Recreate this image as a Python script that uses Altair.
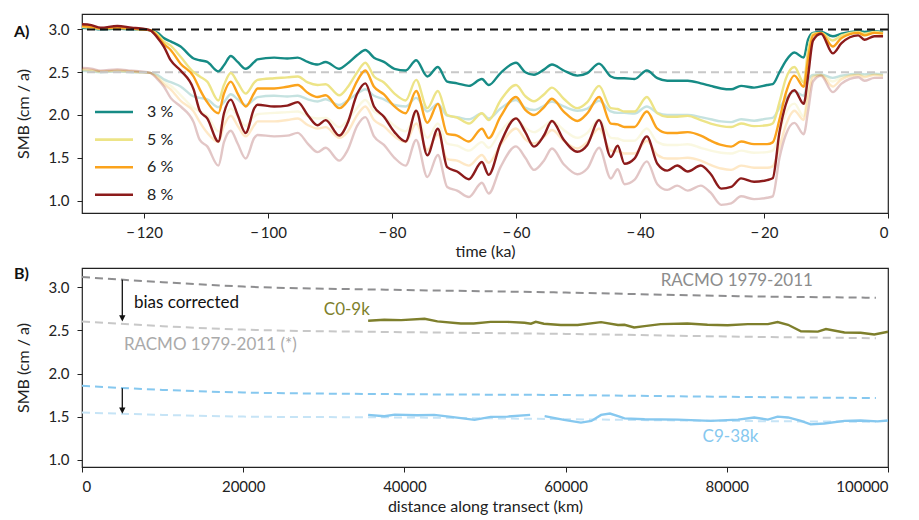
import altair as alt
import pandas as pd

# ---------------- Panel A: SMB over time ----------------
time_ka = [-130, -128.5, -127, -124.3, -122, -120.5, -119, -117.8, -116.8, -115.7,
           -114.1, -112, -111, -109.8, -108, -107.1, -106, -104.9, -103.6, -102.2,
           -101.7, -99, -96.9, -95.2, -93.6, -92, -90.7, -88.5, -87.2, -85.6,
           -84.3, -82.9, -81.3, -79.6, -77.8, -76.1, -74.3, -72.6, -71.1, -69.5,
           -67.6, -65.5, -64.4, -62.5, -60, -58.5, -57.1, -55.5, -54.2, -52.3,
           -50.1, -48.5, -46.6, -44.7, -43.6, -42.5, -40.9, -38.9, -37.2, -35.6,
           -34, -32.3, -30.2, -28.6, -26.9, -25.3, -23.7, -21.6, -19.5, -18.6,
           -17.5, -16.5, -15.1, -13.6, -12.9, -12.1, -10.8, -8.9, -7.5, -4.8,
           -3.8, -2.2, -0.8]

smb_3pct = [3.02, 3.01, 3.00, 3.01, 3.00, 3.00, 2.99, 2.96, 2.90, 2.86,
            2.80, 2.66, 2.64, 2.62, 2.51, 2.58, 2.69, 2.62, 2.54, 2.62,
            2.65, 2.67, 2.66, 2.67, 2.62, 2.59, 2.62, 2.54, 2.60, 2.70,
            2.76, 2.67, 2.62, 2.54, 2.52, 2.64, 2.45, 2.56, 2.39, 2.37,
            2.34, 2.42, 2.35, 2.49, 2.61, 2.50, 2.47, 2.53, 2.59, 2.52,
            2.46, 2.49, 2.60, 2.45, 2.43, 2.43, 2.42, 2.52, 2.43, 2.40,
            2.40, 2.40, 2.37, 2.34, 2.31, 2.30, 2.34, 2.32, 2.35, 2.36,
            2.50, 2.63, 2.73, 2.67, 2.88, 2.96, 2.97, 2.92, 2.95, 2.98,
            2.97, 2.98, 2.97]

smb_5pct = [3.03, 3.02, 3.01, 3.02, 3.01, 3.00, 2.99, 2.94, 2.86, 2.81,
            2.68, 2.50, 2.45, 2.39, 2.17, 2.35, 2.49, 2.38, 2.25, 2.38,
            2.41, 2.43, 2.44, 2.45, 2.38, 2.35, 2.36, 2.23, 2.32, 2.50,
            2.61, 2.45, 2.38, 2.25, 2.17, 2.41, 2.08, 2.28, 2.00, 1.97,
            1.90, 2.02, 1.94, 2.17, 2.35, 2.22, 2.16, 2.24, 2.32, 2.19,
            2.08, 2.15, 2.34, 2.08, 2.07, 2.04, 2.04, 2.21, 2.02, 1.98,
            1.98, 1.99, 1.94, 1.90, 1.87, 1.86, 1.90, 1.87, 1.88, 1.90,
            2.15, 2.42, 2.56, 2.38, 2.75, 2.95, 2.96, 2.87, 2.93, 2.97,
            2.95, 2.97, 2.96]

smb_6pct = [3.04, 3.03, 3.01, 3.02, 3.01, 3.00, 2.99, 2.92, 2.83, 2.76,
            2.60, 2.45, 2.30, 2.15, 2.02, 2.25, 2.39, 2.25, 2.10, 2.26,
            2.31, 2.31, 2.33, 2.35, 2.26, 2.21, 2.23, 2.08, 2.16, 2.40,
            2.52, 2.33, 2.24, 2.10, 2.02, 2.28, 1.91, 2.13, 1.78, 1.76,
            1.69, 1.84, 1.73, 1.98, 2.21, 2.06, 2.00, 2.09, 2.19, 2.04,
            1.93, 2.02, 2.21, 1.90, 1.89, 1.86, 1.86, 2.04, 1.84, 1.79,
            1.79, 1.80, 1.76, 1.70, 1.65, 1.63, 1.69, 1.66, 1.66, 1.68,
            1.95, 2.25, 2.46, 2.33, 2.65, 2.93, 2.96, 2.80, 2.90, 2.96,
            2.93, 2.96, 2.95]

smb_8pct = [3.06, 3.05, 3.02, 3.04, 3.02, 3.01, 2.99, 2.90, 2.80, 2.64,
            2.52, 2.30, 2.05, 1.96, 1.69, 2.02, 2.18, 2.00, 1.79, 2.08,
            2.12, 2.10, 2.11, 2.15, 2.00, 1.88, 1.94, 1.76, 1.90, 2.25,
            2.37, 2.10, 1.98, 1.80, 1.69, 2.05, 1.53, 1.84, 1.39, 1.34,
            1.25, 1.45, 1.30, 1.67, 1.96, 1.80, 1.63, 1.76, 1.93, 1.71,
            1.57, 1.65, 1.94, 1.51, 1.64, 1.43, 1.49, 1.75, 1.43, 1.35,
            1.41, 1.34, 1.41, 1.31, 1.14, 1.16, 1.26, 1.22, 1.24, 1.26,
            1.80, 2.12, 2.29, 2.13, 2.45, 2.87, 2.95, 2.72, 2.84, 2.93,
            2.88, 2.92, 2.92]

series_names = ["3 %", "5 %", "6 %", "8 %"]
series_colors = ["#168b85", "#ede487", "#fba31c", "#8c1b1b"]
reference_levels = [3.0, 2.5]   # uncorrected / bias-corrected present-day SMB

# ---------------- Panel B: SMB along transect ----------------
dist_ref = [0, 10000, 20000, 40000, 60000, 80000, 98500]
racmo = [3.12, 3.06, 3.01, 2.97, 2.94, 2.90, 2.88]
racmo_star = [2.605, 2.55, 2.51, 2.48, 2.46, 2.43, 2.41]
c9_racmo = [1.857, 1.81, 1.78, 1.76, 1.75, 1.73, 1.715]
c9_racmo_star = [1.547, 1.52, 1.50, 1.49, 1.47, 1.45, 1.44]

c0_dist = [35500, 37500, 39600, 42500, 44100, 47000, 48600, 50700, 52800, 54900,
           55700, 56300, 57300, 59400, 61500, 64400, 66500, 67300, 68500, 69800,
           71800, 75100, 77600, 80100, 82600, 85100, 86300, 87600, 89200, 91300,
           92300, 94600, 96600, 98300, 100000]
c0_smb = [2.613, 2.624, 2.62, 2.636, 2.605, 2.58, 2.58, 2.60, 2.60, 2.59,
          2.578, 2.60, 2.578, 2.563, 2.563, 2.597, 2.563, 2.566, 2.535, 2.55,
          2.574, 2.58, 2.566, 2.56, 2.574, 2.574, 2.597, 2.566, 2.49, 2.487,
          2.516, 2.477, 2.473, 2.454, 2.485]

c9_dist_a = [35500, 37500, 38800, 41600, 43700, 45800, 48700, 50700, 52800, 55600]
c9_smb_a = [1.52, 1.505, 1.523, 1.515, 1.52, 1.497, 1.462, 1.497, 1.50, 1.52]
c9_dist_b = [57400, 59800, 61900, 63200, 64400, 65500, 66700, 67300, 69800, 73900,
             78000, 81400, 83400, 85100, 86300, 87600, 89200, 90400, 92100, 94600,
             96600, 98700, 100000]
c9_smb_b = [1.505, 1.462, 1.43, 1.45, 1.52, 1.535, 1.50, 1.48, 1.47, 1.465,
            1.45, 1.465, 1.49, 1.465, 1.50, 1.49, 1.45, 1.41, 1.42, 1.45,
            1.455, 1.445, 1.455]

arrow_x = [5000, 5000]
arrow_from = [3.09, 1.83]
arrow_to = [2.655, 1.585]
arrow_tip = [2.64, 1.57]

FONT = "Lato"
W, H = 806, 199

# ---------- build panel A ----------
rows = []
for name, vals in zip(series_names, [smb_3pct, smb_5pct, smb_6pct, smb_8pct]):
    for t, v in zip(time_ka, vals):
        rows.append({"t": t, "series": name, "smb": v})
dfA = pd.DataFrame(rows)

color_scale = alt.Scale(domain=series_names, range=series_colors)
legendA = alt.Legend(title=None, orient="none", legendX=23, legendY=89,
                     symbolType="M-2.5,0H2.5", symbolSize=231, symbolStrokeWidth=2.6,
                     symbolOpacity=1, labelFont=FONT, labelFontSize=16, labelColor="#222",
                     labelOffset=24, rowPadding=10.6, padding=0)
xA = alt.X("t:Q", scale=alt.Scale(domain=[-130, 0], nice=False),
           axis=alt.Axis(values=[-120, -100, -80, -60, -40, -20, 0],
                         labelExpr="datum.value < 0 ? '\u2212\u2009' + abs(datum.value) : datum.value",
                         title="time (ka)", titlePadding=3, labelPadding=7))
yA_scale = alt.Scale(domain=[0.855, 3.18], nice=False, zero=False)
yA_axis = alt.Axis(values=[1.0, 1.5, 2.0, 2.5, 3.0], format=".1f",
                   title="SMB (cm / a)", titlePadding=17, labelPadding=8)

baseA = alt.Chart(dfA)
faded = baseA.mark_line(strokeWidth=2.4, opacity=0.25, interpolate="monotone").transform_calculate(
    corr=f"datum.smb * {reference_levels[1]} / {reference_levels[0]}"
).encode(
    x=xA,
    y=alt.Y("corr:Q", scale=yA_scale, axis=yA_axis),
    color=alt.Color("series:N", scale=color_scale, legend=legendA),
    order=alt.Order("t:Q"),
)
bold = baseA.mark_line(strokeWidth=2.4, interpolate="monotone").encode(
    x=xA,
    y=alt.Y("smb:Q", scale=yA_scale, axis=yA_axis),
    color=alt.Color("series:N", scale=color_scale, legend=legendA),
    order=alt.Order("t:Q"),
)
dfRef = pd.DataFrame({"level": reference_levels, "kind": ["raw", "corrected"]})
rule_black = alt.Chart(dfRef).transform_filter("datum.kind == 'raw'").mark_rule(
    color="#111", strokeDash=[8, 5], strokeWidth=2).encode(y=alt.Y("level:Q", scale=yA_scale))
rule_gray = alt.Chart(dfRef).transform_filter("datum.kind == 'corrected'").mark_rule(
    color="#c8c8c8", strokeDash=[8, 5], strokeWidth=2).encode(y=alt.Y("level:Q", scale=yA_scale))
labelA = alt.Chart(pd.DataFrame({"lab": ["A)"]})).mark_text(
    font=FONT, fontSize=16, fontWeight="bold", align="left", baseline="middle", color="#111"
).encode(x=alt.value(-68), y=alt.value(18), text="lab:N")

top = alt.layer(faded, rule_gray, bold, rule_black, labelA).properties(width=W, height=H)

# ---------- build panel B ----------
ref_names = ["RACMO", "RACMO (*)", "C9 RACMO", "C9 RACMO (*)"]
ref_colors = ["#8e8e90", "#c8c8c8", "#86c8ef", "#c6e4f6"]
rowsB = []
for name, vals in zip(ref_names, [racmo, racmo_star, c9_racmo, c9_racmo_star]):
    for d, v in zip(dist_ref, vals):
        rowsB.append({"d": d, "series": name, "smb": v})
dfB = pd.DataFrame(rowsB)

xB = alt.X("d:Q", scale=alt.Scale(domain=[0, 100000], nice=False),
           axis=alt.Axis(values=[0, 20000, 40000, 60000, 80000, 100000], format="d",
                         title="distance along transect (km)", titlePadding=4, labelPadding=7))
yB_scale = alt.Scale(domain=[0.915, 3.225], nice=False, zero=False)
yB_axis = alt.Axis(values=[1.0, 1.5, 2.0, 2.5, 3.0], format=".1f",
                   title="SMB (cm / a)", titlePadding=17, labelPadding=8)

dashed = alt.Chart(dfB).mark_line(strokeDash=[8, 5], strokeWidth=2, interpolate="monotone").encode(
    x=xB, y=alt.Y("smb:Q", scale=yB_scale, axis=yB_axis),
    stroke=alt.Stroke("series:N", scale=alt.Scale(domain=ref_names, range=ref_colors), legend=None),
    order=alt.Order("d:Q"),
)

rowsS = []
for d, v in zip(c0_dist, c0_smb):
    rowsS.append({"d": d, "smb": v, "core": "C0-9k", "seg": "C0"})
for d, v in zip(c9_dist_a, c9_smb_a):
    rowsS.append({"d": d, "smb": v, "core": "C9-38k", "seg": "C9a"})
for d, v in zip(c9_dist_b, c9_smb_b):
    rowsS.append({"d": d, "smb": v, "core": "C9-38k", "seg": "C9b"})
dfS = pd.DataFrame(rowsS)
solid_colors = {"C0-9k": "#7e7f2c", "C9-38k": "#86c8ef"}
solid = alt.Chart(dfS).transform_calculate(
    col="datum.core == 'C0-9k' ? '%s' : '%s'" % (solid_colors["C0-9k"], solid_colors["C9-38k"])
).mark_line(strokeWidth=2.4).encode(
    x=xB, y=alt.Y("smb:Q", scale=yB_scale),
    stroke=alt.Stroke("col:N", scale=None),
    detail="seg:N", order=alt.Order("d:Q"),
)

dfArrow = pd.DataFrame({"d": arrow_x, "y0": arrow_from, "y1": arrow_to, "tip": arrow_tip})
arrow_shaft = alt.Chart(dfArrow).mark_rule(color="#111", strokeWidth=1.3).encode(
    x="d:Q", y=alt.Y("y0:Q", scale=yB_scale), y2="y1:Q")
arrow_head = alt.Chart(dfArrow).mark_point(
    shape="M-1,-1L1,-1L0,1Z", filled=True, color="#111", opacity=1, size=40
).encode(x="d:Q", y=alt.Y("tip:Q", scale=yB_scale))

ann_text = ["bias corrected", "RACMO 1979-2011 (*)", "RACMO 1979-2011", "C0-9k", "C9-38k"]
ann_x = [6450, 5200, 71800, 30000, 77000]
ann_y = [2.82, 2.33, 3.07, 2.74, 1.26]
ann_color = ["#111111", "#aaaaaa", "#8c8c8c", "#7e7f2c", "#86c8ef"]
dfAnn = pd.DataFrame({"txt": ann_text, "d": ann_x, "smb": ann_y, "col": ann_color})
ann = alt.Chart(dfAnn).mark_text(font=FONT, fontSize=17, align="left", baseline="middle").encode(
    x="d:Q", y=alt.Y("smb:Q", scale=yB_scale), text="txt:N",
    fill=alt.Fill("col:N", scale=None))

labelB = alt.Chart(pd.DataFrame({"lab": ["B)"]})).mark_text(
    font=FONT, fontSize=16, fontWeight="bold", align="left", baseline="middle", color="#111"
).encode(x=alt.value(-68), y=alt.value(6), text="lab:N")

bottom = alt.layer(dashed, solid, arrow_shaft, arrow_head, ann, labelB).properties(width=W, height=H)

chart = alt.vconcat(top, bottom, spacing=5).resolve_scale(
    color="independent", stroke="independent", fill="independent"
).configure_view(
    stroke="#222", strokeWidth=1.2
).configure_axis(
    domain=False, grid=False, tickColor="#222", tickSize=5, tickWidth=1,
    labelFont=FONT, labelFontSize=15, labelColor="#222",
    titleFont=FONT, titleFontSize=16, titleFontWeight="normal", titleColor="#222",
)

chart.save("out.html", embed_options={"renderer": "svg", "actions": False})
